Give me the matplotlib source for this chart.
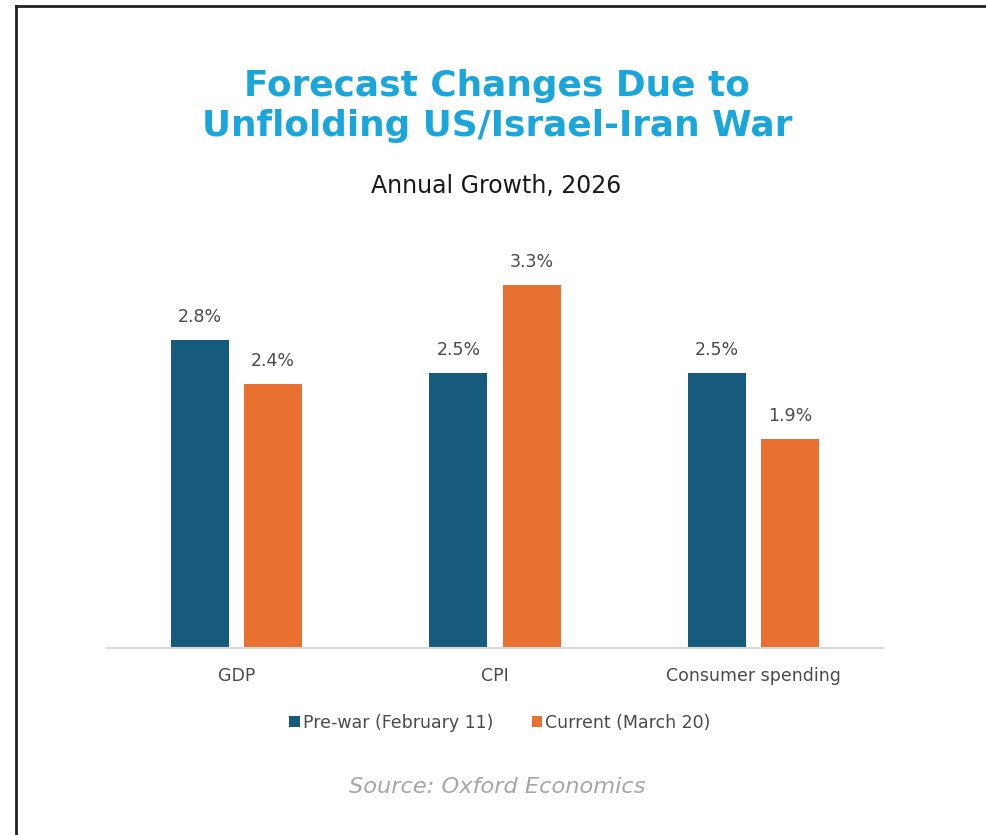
import matplotlib
matplotlib.use("Agg")
import matplotlib.pyplot as plt
import numpy as np

categories = ["GDP", "CPI", "Consumer spending"]
prewar = [2.8, 2.5, 2.5]
current = [2.4, 3.3, 1.9]
series_labels = ["Pre-war (February 11)", "Current (March 20)"]
title_text = "Forecast Changes Due to\nUnflolding US/Israel-Iran War"
subtitle_text = "Annual Growth, 2026"
source_text = "Source: Oxford Economics"

BLUE = "#165B7E"
ORANGE = "#E87030"
TITLE_BLUE = "#1AA6DA"
TXT = "#4A4A4A"
FONT = ["DejaVu Sans"]

W, H = 987, 835
fig = plt.figure(figsize=(W / 100, H / 100), dpi=100)
fig.patch.set_facecolor("white")

# frame lines (left and top) like the reference screenshot
fig.add_artist(plt.Line2D([16 / W, 16 / W], [0, 1 - 6 / H], color="#222222", lw=2.0,
                          transform=fig.transFigure))
fig.add_artist(plt.Line2D([16 / W, 1], [1 - 6 / H, 1 - 6 / H], color="#222222", lw=2.0,
                          transform=fig.transFigure))

ax = fig.add_axes([107 / W, (H - 648) / H, 776 / W, 396 / H])
x = np.arange(len(categories))
off = 0.1415
bw = 0.225
b1 = ax.bar(x - off, prewar, bw, color=BLUE, label=series_labels[0])
b2 = ax.bar(x + off, current, bw, color=ORANGE, label=series_labels[1])
for b in (b1, b2):
    ax.bar_label(b, labels=[f"{v:.1f}%" for v in b.datavalues], padding=10,
                 fontsize=12.5, color=TXT, fontfamily=FONT)

ax.set_xlim(-0.5, 2.5)
ax.set_ylim(0, 3.6)
ax.set_yticks([])
for s in ("left", "right", "top"):
    ax.spines[s].set_visible(False)
ax.spines["bottom"].set_color("#D9D9D9")
ax.spines["bottom"].set_linewidth(1.5)
ax.set_xticks(x)
ax.set_xticklabels(categories, fontsize=12.5, color=TXT, fontfamily=FONT)
ax.tick_params(axis="x", length=0, pad=14)

fig.legend(handles=[b1, b2], labels=series_labels, loc="center",
           bbox_to_anchor=(500 / W, 1 - 723 / H), ncol=2, frameon=False,
           handlelength=0.6, handleheight=0.6, handletextpad=0.2, columnspacing=2.2,
           prop={"family": FONT, "size": 12.5}, labelcolor=TXT)

fig.text(497 / W, 1 - 106 / H, title_text, ha="center", va="center", fontsize=25.8,
         fontweight="bold", color=TITLE_BLUE, linespacing=1.22, family=FONT)
fig.text(496 / W, 1 - 186 / H, subtitle_text, ha="center", va="center", fontsize=17,
         color="#1A1A1A", family=FONT)
fig.text(497 / W, 1 - 787 / H, source_text, ha="center", va="center", fontsize=16.2,
         style="italic", color="#A6A6A6", family=FONT)

fig.savefig("out.png", dpi=100, facecolor="white")
